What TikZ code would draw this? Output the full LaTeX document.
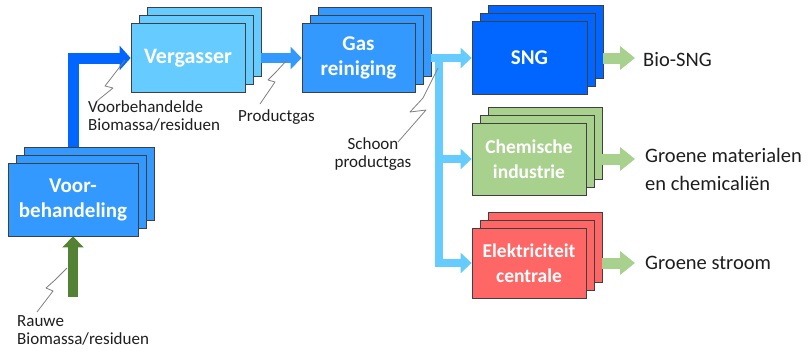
\documentclass[tikz,border=0pt]{standalone}
\usepackage{fontspec}
\setmainfont{Carlito}
\usetikzlibrary{arrows.meta,shadows,calc}
\definecolor{cMid}{HTML}{3399FF}
\definecolor{cLight}{HTML}{66CCFF}
\definecolor{cDark}{HTML}{0066FF}
\definecolor{cGreen}{HTML}{A9D18E}
\definecolor{cRed}{HTML}{FF6666}
\definecolor{cIn}{HTML}{548235}
\definecolor{cEdge}{HTML}{404040}
\definecolor{cTxt}{HTML}{1E1E1E}
\definecolor{cLead}{HTML}{808080}
\begin{document}
\begin{tikzpicture}[x=1pt,y=-1pt,
  stackbox/.style={draw=cEdge, line width=0.8pt, text=white, align=center, inner sep=0pt,
    font=\bfseries\fontsize{21}{25}\selectfont,
    double copy shadow={shadow xshift=8pt, shadow yshift=8pt}},
  smallbox/.style={stackbox, font=\bfseries\fontsize{19.5}{25}\selectfont},
  lbl/.style={text=cTxt, align=left, inner sep=0pt, font=\fontsize{17}{18}\selectfont},
  outlbl/.style={text=cTxt, align=left, inner sep=0pt, font=\fontsize{20.5}{28}\selectfont},
  bflow/.style={draw=cDark, line width=11pt, -{Triangle[width=24pt,length=11pt]}},
  mflow/.style={draw=cMid, line width=10pt, -{Triangle[width=22pt,length=11pt]}},
  lflow/.style={draw=cLight, line width=8pt, -{Triangle[width=20pt,length=11pt]}},
  gout/.style={draw=cGreen, line width=11pt, -{Triangle[width=23pt,length=15pt]}},
  gin/.style={draw=cIn, line width=10pt, -{Triangle[width=21pt,length=11pt]}},
  lead/.style={draw=cLead, line width=0.8pt, line join=round}
]
\useasboundingbox (0,0) rectangle (809,354);

% process boxes
\node[stackbox, fill=cMid, minimum width=130pt, minimum height=73pt] (voor) at (73,199.5) {Voor-\\behandeling};
\node[stackbox, fill=cLight, minimum width=114pt, minimum height=69pt, font=\bfseries\fontsize{22}{25}\selectfont] (verg) at (188,58) {Vergasser};
\node[stackbox, fill=cMid, minimum width=113pt, minimum height=69pt] (gas) at (358.5,58) {Gas\\reiniging};
\node[stackbox, fill=cDark, minimum width=115pt, minimum height=73pt] (sng) at (529.5,58) {SNG};
\node[smallbox, fill=cGreen, minimum width=114pt, minimum height=72pt] (chem) at (529,159) {Chemische\\industrie};
\node[smallbox, fill=cRed, minimum width=114pt, minimum height=70pt] (elek) at (529,263) {Elektriciteit\\centrale};

% labels
\node[lbl, anchor=north west] (rauwe) at (17,315) {Rauwe\\Biomassa/residuen};
\node[lbl, anchor=north west] (voorb) at (88,100) {Voorbehandelde\\Biomassa/residuen};
\node[lbl, anchor=north west] (prodg) at (238,109) {Productgas};
\node[lbl, anchor=north, align=center] (schoon) at (373,137) {Schoon\\productgas};
\node[outlbl, anchor=west] (bio) at (643,60) {Bio-SNG};
\node[outlbl, anchor=north west] (mat) at (645,148) {Groene materialen\\en chemicaliën};
\node[outlbl, anchor=west] (stroom) at (645,263) {Groene stroom};

% flows
\coordinate (rawin) at (73,297);
\draw[gin] (rawin) -- (voor.south);
\draw[bflow] ([yshift=16pt]voor.north) |- (verg.west);
\draw[mflow] ([xshift=16pt]verg.east) -- (gas.west);
\coordinate (j) at (439,58);
\draw[lflow] ([xshift=16pt]gas.east) -- (sng.west);
\draw[lflow] (j) |- (elek.west);
\draw[lflow] (j |- chem.west) -- (chem.west);

\draw[gout] ([xshift=16pt]sng.east) -- ($(sng.east -| bio.west)+(-8,0)$);
\draw[gout] ([xshift=16pt]chem.east) -- ($(chem.east -| mat.west)+(-10,0)$);
\draw[gout] ([xshift=16pt]elek.east) -- ($(elek.east -| stroom.west)+(-10,0)$);

% leader lines
\draw[lead] (67,268) -- (55,280) -- (46,288) -- (53,291) -- (37,312);
\draw[lead] (125,60) -- (112,77) -- (105,86) -- (113,88) -- (97,101);
\draw[lead] (287,60) -- (276,72) -- (268,80) -- (275,82) -- (260,104);
\draw[lead] (438,68) -- (423,98) -- (410,112) -- (426,110) -- (398,142);
\end{tikzpicture}
\end{document}
